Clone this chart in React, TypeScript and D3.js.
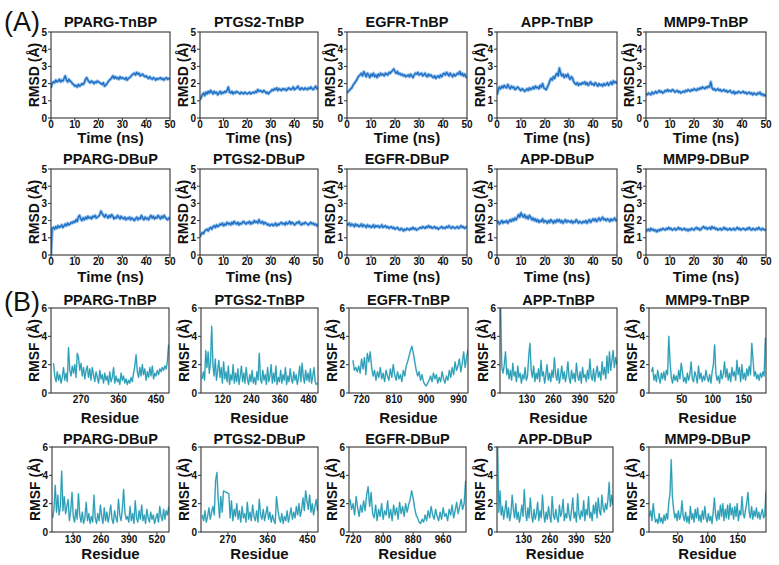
import React from 'react';
import * as d3 from 'd3';

// ---------- RMSD (Å) vs time, sampled every 0.5 ns over 0–50 ns ----------
const rmsdStepNs = 0.5;
const rmsdTimeTicks = [0, 10, 20, 30, 40, 50];
const rmsdValueTicks = [0, 1, 2, 3, 4, 5];

const ppargTnbpRmsd = [
  1.75, 2.0, 2.1, 2.05, 2.2, 2.1, 2.15, 2.25, 2.1, 2.2, 2.15,
  2.3, 2.45, 2.2, 2.1, 2.25, 2.15, 2.1, 2.0, 1.95, 1.85,
  1.9, 1.8, 1.95, 1.85, 1.9, 2.0, 1.95, 2.05, 2.25, 2.35,
  2.2, 2.1, 2.05, 2.15, 2.1, 2.0, 2.1, 2.05, 2.15, 2.1,
  2.05, 2.0, 1.95, 2.05, 1.85, 1.9, 2.0, 2.1, 2.2, 2.25,
  2.35, 2.45, 2.3, 2.4, 2.3, 2.35, 2.25, 2.4, 2.3, 2.35,
  2.3, 2.25, 2.35, 2.2, 2.3, 2.35, 2.4, 2.5, 2.55, 2.6,
  2.5, 2.65, 2.55, 2.6, 2.45, 2.5, 2.55, 2.45, 2.4, 2.45,
  2.35, 2.3, 2.4, 2.3, 2.25, 2.35, 2.3, 2.2, 2.3, 2.25,
  2.3, 2.35, 2.25, 2.3, 2.2, 2.3, 2.35, 2.25, 2.3, 2.25,
];
const ptgs2TnbpRmsd = [
  1.05, 1.2, 1.35, 1.45, 1.3, 1.5, 1.4, 1.55, 1.45, 1.6, 1.5,
  1.4, 1.55, 1.45, 1.5, 1.35, 1.45, 1.55, 1.4, 1.5, 1.45,
  1.55, 1.5, 1.6, 1.8, 1.5, 1.45, 1.55, 1.4, 1.5, 1.45,
  1.55, 1.5, 1.45, 1.4, 1.5, 1.45, 1.4, 1.5, 1.45, 1.4,
  1.45, 1.5, 1.4, 1.45, 1.5, 1.45, 1.55, 1.5, 1.65, 1.55,
  1.6, 1.55, 1.5, 1.6, 1.55, 1.45, 1.5, 1.4, 1.5, 1.55,
  1.65, 1.6, 1.7, 1.65, 1.75, 1.6, 1.7, 1.65, 1.6, 1.7,
  1.65, 1.7, 1.6, 1.65, 1.75, 1.7, 1.65, 1.7, 1.8, 1.65,
  1.7, 1.75, 1.85, 1.7, 1.65, 1.75, 1.7, 1.65, 1.75, 1.7,
  1.65, 1.75, 1.7, 1.8, 1.7, 1.65, 1.75, 1.85, 1.7, 1.75,
];
const egfrTnbpRmsd = [
  1.45, 1.55, 1.6, 1.7, 1.75, 1.9, 2.0, 2.1, 2.2, 2.35, 2.45,
  2.5, 2.6, 2.45, 2.7, 2.55, 2.4, 2.6, 2.5, 2.35, 2.55,
  2.45, 2.6, 2.4, 2.5, 2.35, 2.55, 2.45, 2.6, 2.5, 2.55,
  2.45, 2.6, 2.55, 2.5, 2.65, 2.6, 2.7, 2.75, 2.85, 2.7,
  2.6, 2.7, 2.55, 2.6, 2.5, 2.55, 2.45, 2.5, 2.4, 2.45,
  2.5, 2.4, 2.55, 2.45, 2.35, 2.5, 2.6, 2.55, 2.65, 2.5,
  2.55, 2.6, 2.45, 2.5, 2.6, 2.45, 2.4, 2.55, 2.45, 2.5,
  2.4, 2.35, 2.45, 2.3, 2.4, 2.45, 2.35, 2.5, 2.4, 2.55,
  2.6, 2.5, 2.65, 2.55, 2.45, 2.6, 2.5, 2.4, 2.55, 2.45,
  2.5, 2.6, 2.55, 2.7, 2.5, 2.6, 2.45, 2.55, 2.4, 2.35,
];
const appTnbpRmsd = [
  1.35, 1.6, 1.8, 1.7, 1.85, 1.75, 1.9, 1.8, 1.75, 1.95, 1.8,
  1.7, 1.85, 1.75, 1.8, 1.65, 1.7, 1.8, 1.75, 1.65, 1.6,
  1.7, 1.65, 1.55, 1.6, 1.7, 1.6, 1.75, 1.65, 1.7, 1.8,
  1.7, 1.85, 1.75, 1.8, 1.7, 1.9, 1.8, 2.0, 1.75, 1.7,
  1.65, 1.8, 1.95, 2.15, 2.3, 2.2, 2.4, 2.3, 2.5, 2.6,
  2.45, 2.9, 2.6, 2.45, 2.55, 2.35, 2.5, 2.4, 2.55, 2.35,
  2.25, 2.4, 2.3, 2.1, 2.0, 1.95, 2.05, 1.9, 2.0, 1.95,
  2.05, 2.0, 2.1, 1.95, 2.05, 1.9, 2.0, 2.1, 1.95, 2.0,
  1.9, 2.05, 1.95, 1.85, 2.0, 1.9, 1.95, 1.85, 2.0, 1.9,
  1.95, 2.05, 1.9, 2.0, 2.1, 1.95, 2.15, 2.05, 2.1, 2.0,
];
const mmp9TnbpRmsd = [
  1.4, 1.35, 1.45, 1.4, 1.35, 1.5, 1.4, 1.45, 1.55, 1.45, 1.5,
  1.6, 1.5, 1.55, 1.45, 1.5, 1.6, 1.55, 1.65, 1.55, 1.6,
  1.55, 1.65, 1.6, 1.5, 1.55, 1.6, 1.5, 1.55, 1.45, 1.5,
  1.55, 1.5, 1.6, 1.55, 1.65, 1.6, 1.55, 1.65, 1.6, 1.7,
  1.65, 1.6, 1.7, 1.65, 1.75, 1.7, 1.8, 1.75, 1.7, 1.8,
  1.75, 1.85, 1.8, 2.1, 1.75, 1.65, 1.7, 1.6, 1.65, 1.7,
  1.6, 1.65, 1.55, 1.6, 1.65, 1.55, 1.6, 1.5, 1.55, 1.6,
  1.5, 1.45, 1.55, 1.4, 1.5, 1.45, 1.55, 1.5, 1.45, 1.5,
  1.55, 1.45, 1.5, 1.4, 1.45, 1.5, 1.4, 1.45, 1.35, 1.45,
  1.4, 1.35, 1.45, 1.4, 1.5, 1.35, 1.4, 1.3, 1.35, 1.25,
];
const ppargDbupRmsd = [
  0.0, 1.55, 1.6, 1.5, 1.65, 1.55, 1.7, 1.6, 1.65, 1.75, 1.6,
  1.7, 1.8, 1.7, 1.85, 1.75, 1.8, 1.9, 1.85, 1.95, 1.9,
  2.05, 1.95, 2.2, 2.3, 2.1, 2.0, 2.15, 2.05, 2.2, 2.1,
  2.25, 2.15, 2.2, 2.1, 2.25, 2.2, 2.3, 2.15, 2.2, 2.25,
  2.35, 2.55, 2.4, 2.3, 2.2, 2.35, 2.25, 2.15, 2.3, 2.2,
  2.35, 2.25, 2.1, 2.2, 2.15, 2.3, 2.2, 2.1, 2.25, 2.15,
  2.1, 2.2, 2.05, 2.15, 2.1, 2.2, 2.05, 2.15, 2.1, 2.0,
  2.1, 2.2, 2.05, 2.15, 2.1, 2.3, 2.15, 2.05, 2.2, 2.1,
  2.15, 2.05, 2.2, 2.3, 2.15, 2.25, 2.1, 2.2, 2.15, 2.3,
  2.2, 2.1, 2.25, 2.15, 2.3, 2.2, 2.1, 2.05, 2.15, 2.1,
];
const ptgs2DbupRmsd = [
  1.05, 1.2, 1.3, 1.25, 1.4, 1.45, 1.5, 1.4, 1.55, 1.6, 1.5,
  1.65, 1.7, 1.6, 1.75, 1.65, 1.7, 1.8, 1.75, 1.85, 1.7,
  1.8, 1.75, 1.9, 1.8, 1.85, 1.75, 1.9, 1.8, 1.95, 1.85,
  1.8, 1.9, 1.75, 1.85, 1.8, 1.9, 1.95, 1.85, 1.8, 1.9,
  1.85, 1.95, 1.8, 1.9, 1.85, 2.0, 1.9, 1.95, 1.85, 2.05,
  1.9, 1.85, 1.95, 1.8, 1.9, 1.85, 1.75, 1.8, 1.7, 1.75,
  1.8, 1.7, 1.75, 1.85, 1.7, 1.8, 1.75, 1.85, 1.9, 1.8,
  1.85, 1.75, 1.9, 1.8, 1.85, 1.95, 1.8, 1.9, 1.85, 1.75,
  1.8, 1.9, 1.85, 1.95, 1.8, 1.75, 1.85, 1.8, 1.9, 1.85,
  1.8, 1.75, 1.85, 1.9, 1.8, 1.85, 1.75, 1.8, 1.7, 1.75,
];
const egfrDbupRmsd = [
  1.8, 1.75, 1.85, 1.7, 1.8, 1.75, 1.65, 1.8, 1.7, 1.75, 1.65,
  1.7, 1.8, 1.65, 1.75, 1.7, 1.6, 1.75, 1.65, 1.7, 1.6,
  1.65, 1.75, 1.6, 1.7, 1.65, 1.7, 1.6, 1.65, 1.75, 1.6,
  1.65, 1.7, 1.6, 1.65, 1.55, 1.6, 1.65, 1.55, 1.6, 1.5,
  1.55, 1.6, 1.5, 1.45, 1.55, 1.5, 1.4, 1.5, 1.45, 1.55,
  1.5, 1.45, 1.55, 1.5, 1.6, 1.5, 1.55, 1.45, 1.5, 1.55,
  1.6, 1.55, 1.65, 1.6, 1.55, 1.65, 1.6, 1.7, 1.6, 1.65,
  1.55, 1.6, 1.65, 1.55, 1.6, 1.5, 1.55, 1.6, 1.65, 1.55,
  1.6, 1.55, 1.65, 1.6, 1.7, 1.6, 1.55, 1.65, 1.6, 1.55,
  1.6, 1.65, 1.55, 1.6, 1.7, 1.6, 1.65, 1.55, 1.6, 1.65,
];
const appDbupRmsd = [
  1.85, 1.95, 1.8, 1.9, 2.0, 1.85, 1.95, 1.9, 2.0, 1.85, 1.95,
  2.05, 1.95, 2.1, 2.0, 2.15, 2.05, 2.2, 2.35, 2.2, 2.45,
  2.3, 2.2, 2.35, 2.15, 2.25, 2.1, 2.3, 2.2, 2.05, 2.15,
  2.0, 2.1, 1.95, 2.05, 1.9, 2.0, 1.95, 2.1, 1.9, 2.0,
  1.95, 1.85, 2.0, 1.9, 2.05, 1.95, 1.85, 2.0, 1.9, 2.05,
  1.95, 2.05, 1.9, 2.0, 1.85, 1.95, 2.05, 1.9, 2.0, 1.95,
  1.9, 2.0, 1.85, 1.95, 1.9, 2.05, 1.95, 1.85, 1.95, 1.9,
  1.85, 1.95, 1.9, 2.0, 1.85, 1.95, 2.05, 1.9, 2.0, 2.1,
  2.0, 2.1, 1.95, 2.05, 2.15, 2.0, 2.1, 2.2, 2.05, 2.1,
  2.0, 2.1, 2.05, 1.95, 2.1, 2.0, 2.05, 2.15, 2.0, 2.05,
];
const mmp9DbupRmsd = [
  1.35, 1.45, 1.5, 1.4, 1.55, 1.45, 1.5, 1.4, 1.45, 1.35, 1.45,
  1.4, 1.5, 1.45, 1.55, 1.5, 1.45, 1.55, 1.5, 1.6, 1.5,
  1.55, 1.45, 1.5, 1.55, 1.45, 1.5, 1.6, 1.5, 1.55, 1.45,
  1.5, 1.55, 1.45, 1.5, 1.4, 1.5, 1.45, 1.55, 1.5, 1.45,
  1.55, 1.6, 1.5, 1.55, 1.45, 1.5, 1.6, 1.65, 1.55, 1.6,
  1.5, 1.55, 1.6, 1.5, 1.65, 1.55, 1.6, 1.5, 1.55, 1.45,
  1.5, 1.55, 1.45, 1.5, 1.6, 1.5, 1.55, 1.45, 1.5, 1.55,
  1.45, 1.5, 1.55, 1.45, 1.5, 1.6, 1.5, 1.55, 1.45, 1.5,
  1.55, 1.5, 1.45, 1.55, 1.5, 1.6, 1.5, 1.45, 1.55, 1.5,
  1.45, 1.55, 1.5, 1.6, 1.5, 1.45, 1.55, 1.5, 1.45, 1.5,
];

// ---------- RMSF (Å) per residue ----------
const rmsfValueTicks = [0, 2, 4, 6];

const ppargTnbpRmsf = [
  2.1, 1.2, 0.8, 1.5, 0.9, 1.3, 0.7, 1.1, 1.8, 0.9,
  1.4, 0.8, 3.2, 1.6, 1.2, 1.9, 1.4, 2.0, 1.1, 2.8,
  2.5, 1.6, 2.1, 1.2, 1.8, 1.0, 1.6, 1.9, 1.1, 1.7,
  0.9, 1.8, 1.3, 0.8, 1.5, 1.1, 0.7, 1.6, 1.0, 1.3,
  0.7, 1.4, 0.9, 1.2, 0.6, 1.5, 0.8, 1.1, 1.8, 0.7,
  1.2, 0.8, 1.0, 0.6, 1.4, 0.9, 1.2, 0.7, 1.0, 0.6,
  0.9, 0.7, 1.1, 0.8, 1.4, 1.9, 2.7, 1.5, 1.1, 1.8,
  1.2, 2.0, 1.3, 1.7, 0.9, 1.5, 1.1, 1.8, 1.2, 1.9,
  1.0, 1.4, 1.2, 1.6, 1.3, 1.7, 1.5, 1.8, 1.6, 1.9,
  1.7, 2.2, 3.4,
];
const ptgs2TnbpRmsf = [
  1.0, 1.5, 0.9, 3.0, 1.8, 2.9, 1.4, 2.2, 4.7, 2.0,
  1.2, 2.4, 0.9, 1.6, 2.3, 1.1, 1.8, 0.7, 2.2, 1.0,
  1.5, 0.8, 1.9, 0.6, 1.3, 0.9, 2.0, 0.7, 1.4, 0.8,
  1.7, 0.6, 1.2, 1.9, 0.8, 1.4, 0.7, 1.8, 1.0, 0.6,
  1.3, 0.8, 1.6, 0.7, 1.1, 0.6, 1.5, 0.9, 2.8, 1.0,
  0.7, 1.6, 0.9, 1.3, 0.6, 1.8, 0.8, 1.2, 2.0, 0.7,
  1.4, 0.8, 1.9, 0.6, 1.1, 0.8, 1.6, 0.7, 1.3, 0.9,
  1.8, 0.6, 1.2, 0.8, 1.7, 1.0, 0.7, 1.5, 0.9, 1.3,
  0.6, 1.1, 1.9, 0.8, 2.1, 1.2, 0.7, 1.6, 0.9, 1.4,
  0.8, 1.7, 0.7, 1.2, 1.8, 0.8, 0.6, 0.7,
];
const egfrTnbpRmsf = [
  2.3, 1.6, 1.8, 1.5, 1.9, 1.4, 2.4, 1.7, 2.5, 1.3,
  2.8, 2.2, 2.9, 1.8, 1.2, 1.6, 0.9, 1.5, 1.1, 1.8,
  1.0, 1.4, 0.8, 1.6, 1.2, 0.9, 1.7, 1.1, 2.0, 1.3,
  0.9, 1.5, 1.0, 1.3, 0.8, 1.6, 1.2, 1.9, 2.2, 2.6,
  3.0, 3.3, 2.8, 2.2, 1.6, 1.2, 1.5, 0.9, 1.3, 0.8,
  0.6, 0.5, 0.7, 0.9, 1.2, 0.8, 1.4, 1.0, 1.3, 0.7,
  1.1, 0.8, 1.5, 1.0, 0.7, 1.2, 0.9, 1.6, 1.1, 1.8,
  1.3, 2.2, 1.6, 1.9, 2.4, 1.5, 2.1, 2.9, 1.8, 2.5,
  3.1,
];
const appTnbpRmsf = [
  6.0, 1.8, 1.4, 2.0, 2.9, 1.3, 1.7, 1.0, 1.6, 0.9,
  2.1, 1.2, 1.5, 0.8, 1.9, 1.1, 1.4, 0.7, 1.3, 1.0,
  1.8, 0.9, 1.2, 2.6, 3.5, 1.6, 1.1, 1.9, 0.8, 1.4,
  1.0, 1.7, 0.8, 2.3, 1.2, 1.5, 0.7, 1.3, 2.0, 0.9,
  1.4, 0.8, 1.6, 1.1, 2.5, 1.3, 0.9, 1.7, 0.7, 1.2,
  1.9, 1.0, 1.5, 0.8, 1.3, 2.2, 1.1, 0.7, 1.6, 1.0,
  1.4, 0.8, 2.1, 1.2, 0.9, 1.5, 0.7, 1.8, 1.1, 1.3,
  0.8, 1.6, 1.0, 2.4, 1.2, 0.9, 1.7, 0.8, 1.4, 1.9,
  1.1, 1.5, 0.9, 2.2, 1.3, 1.8, 1.0, 2.6, 1.4, 2.9,
  1.6, 2.3, 3.0, 1.8, 2.5, 2.0,
];
const mmp9TnbpRmsf = [
  1.5, 1.8, 0.9, 1.3, 0.8, 1.6, 1.1, 0.7, 1.4, 1.0,
  1.5, 0.9, 1.6, 1.3, 4.0, 2.2, 1.1, 0.7, 1.3, 0.9,
  1.2, 0.8, 1.6, 1.0, 2.1, 1.5, 0.8, 1.1, 0.7, 1.4,
  0.9, 1.3, 2.2, 1.0, 0.8, 1.5, 1.2, 0.7, 1.9, 1.0,
  1.4, 0.8, 1.2, 0.9, 1.6, 1.1, 0.8, 1.3, 0.7, 1.5,
  2.0, 3.4, 1.4, 0.9, 1.2, 0.7, 1.6, 1.0, 1.3, 2.2,
  1.1, 1.7, 0.9, 1.4, 0.8, 1.8, 1.2, 1.5, 0.9, 2.3,
  1.3, 1.8, 0.8, 2.0, 1.0, 1.4, 0.9, 1.7, 1.2, 1.9,
  1.3, 3.5, 2.4, 1.2, 1.5, 1.0, 1.3, 0.9, 1.4, 1.1,
  1.5, 1.2, 3.9,
];
const ppargDbupRmsf = [
  1.0, 1.6, 3.3, 1.4, 2.6, 1.2, 1.8, 4.3, 1.5, 2.5,
  1.3, 1.8, 2.3, 0.8, 1.5, 2.8, 1.1, 0.7, 1.6, 0.9,
  2.7, 1.2, 0.7, 1.4, 0.6, 1.0, 2.1, 0.8, 1.3, 0.6,
  1.1, 0.7, 2.6, 1.0, 0.6, 1.3, 0.8, 1.9, 1.1, 0.6,
  1.7, 0.8, 1.4, 0.7, 1.2, 1.9, 0.9, 0.6, 1.5, 1.0,
  0.7, 2.3, 1.2, 0.8, 1.6, 3.0, 1.4, 0.9, 1.1, 0.7,
  1.8, 0.8, 1.3, 0.6, 2.2, 1.0, 0.7, 1.5, 0.9, 1.9,
  0.8, 1.2, 0.6, 1.6, 1.0, 0.7, 1.4, 0.9, 1.2, 0.6,
  1.0, 1.3, 0.7, 1.8, 1.1, 0.8, 1.6, 0.9, 1.5, 1.2,
  1.8,
];
const ptgs2DbupRmsf = [
  1.2, 0.8, 1.5, 0.7, 1.1, 1.7, 0.9, 1.4, 1.8, 1.2,
  3.6, 4.2, 2.3, 1.0, 2.5, 1.4, 2.9, 2.85, 2.8, 2.75,
  2.7, 1.0, 2.2, 0.8, 1.6, 1.1, 2.0, 0.9, 1.5, 0.7,
  1.8, 1.0, 1.3, 0.7, 2.1, 0.9, 1.4, 0.8, 1.9, 1.1,
  0.8, 1.5, 0.7, 2.3, 1.2, 0.9, 1.6, 0.8, 1.3, 1.8,
  0.9, 1.4, 0.7, 1.2, 0.8, 0.6, 2.5, 1.6, 1.0, 0.7,
  1.3, 0.6, 1.1, 0.8, 1.5, 0.7, 1.2, 1.7, 0.9, 1.4,
  1.0, 1.8, 1.2, 2.0, 1.1, 1.6, 2.4, 1.5, 2.9, 2.2,
  1.6, 2.6, 1.4, 2.0, 1.2, 1.8, 2.3, 1.5,
];
const egfrDbupRmsf = [
  2.3, 1.6, 2.0, 1.2, 2.5, 1.7, 1.1, 1.9, 1.4, 2.2,
  1.5, 2.6, 3.2, 1.8, 2.8, 1.3, 1.0, 1.9, 0.8, 1.6,
  1.1, 2.0, 0.9, 1.5, 1.2, 2.2, 1.0, 1.6, 0.8, 1.9,
  1.2, 1.7, 0.9, 2.1, 1.3, 1.8, 1.1, 2.0, 1.4, 1.9,
  2.3, 2.9, 2.4, 1.7, 1.2, 1.0, 0.7, 0.6, 0.9, 0.7,
  1.2, 0.8, 1.5, 1.0, 1.8, 1.2, 0.9, 1.6, 1.1, 0.8,
  1.4, 0.9, 1.7, 1.1, 1.3, 0.8, 1.6, 1.2, 1.9, 1.0,
  1.5, 2.1, 1.3, 1.8, 2.3, 1.6, 2.0, 3.6,
];
const appDbupRmsf = [
  6.0, 1.4, 2.9, 1.2, 1.8, 0.9, 1.5, 2.2, 1.0, 1.7,
  0.8, 1.3, 2.6, 1.6, 1.0, 2.0, 0.9, 1.4, 0.7, 1.2,
  1.9, 1.1, 3.0, 1.5, 0.8, 1.7, 1.0, 2.4, 1.2, 0.7,
  1.6, 0.9, 1.3, 2.1, 0.8, 1.5, 1.0, 2.6, 1.3, 0.7,
  1.4, 0.9, 1.8, 1.1, 0.7, 2.5, 1.2, 0.9, 1.6, 1.0,
  0.7, 1.9, 1.1, 1.4, 2.3, 0.8, 1.3, 1.0, 2.0, 1.2,
  0.8, 1.6, 2.4, 1.0, 1.4, 0.7, 2.7, 1.3, 0.9, 1.5,
  1.1, 2.2, 0.8, 1.6, 1.2, 2.5, 1.0, 1.4, 0.8, 1.9,
  1.3, 2.1, 1.0, 2.4, 1.5, 1.2, 2.6, 1.7, 1.4, 2.0,
  1.6, 2.3, 3.5, 1.8, 2.6, 1.9,
];
const mmp9DbupRmsf = [
  1.1, 1.5, 0.8, 2.0, 1.2, 0.7, 0.9, 0.6, 1.3, 0.7,
  1.0, 0.6, 1.2, 0.8, 1.3, 0.9, 2.1, 2.7, 5.1, 2.5,
  1.6, 1.0, 1.3, 0.8, 1.5, 0.9, 1.2, 2.2, 1.1, 0.8,
  1.4, 0.7, 1.1, 0.6, 1.8, 0.9, 1.3, 0.7, 1.6, 1.0,
  1.7, 0.8, 1.2, 0.7, 1.5, 0.9, 1.8, 1.0, 0.7, 1.3,
  0.8, 1.1, 0.6, 1.4, 2.4, 1.2, 0.8, 1.5, 0.9, 1.9,
  1.1, 2.0, 0.8, 1.6, 1.0, 1.9, 0.9, 2.0, 1.2, 1.7,
  0.9, 1.8, 1.1, 2.0, 0.8, 1.5, 1.2, 2.5, 1.3, 1.0,
  1.6, 2.1, 2.8, 1.4, 1.0, 1.8, 0.9, 1.5, 1.1, 1.7,
  1.0, 1.4, 0.9, 1.3, 1.6, 1.0, 1.2, 2.9,
];

// Residue numbering of each RMSF series: first residue, sampling step
const rmsfFirstResidue = {
  ppargTnbp: 204, ptgs2Tnbp: 33, egfrTnbp: 696, appTnbp: 1, mmp9Tnbp: 1,
  ppargDbup: 35, ptgs2Dbup: 212, egfrDbup: 712, appDbup: 1, mmp9Dbup: 3,
};
const rmsfResidueStep = {
  ppargTnbp: 3, ptgs2Tnbp: 5, egfrTnbp: 4, appTnbp: 6, mmp9Tnbp: 2,
  ppargDbup: 6, ptgs2Dbup: 3, egfrDbup: 4, appDbup: 6, mmp9Dbup: 2,
};
// Residue axis ranges and tick labels
const rmsfResidueRange: Record<string, [number, number]> = {
  ppargTnbp: [198, 481], ptgs2Tnbp: [28, 520], egfrTnbp: [685, 1016], appTnbp: [-2, 572], mmp9Tnbp: [-3, 186],
  ppargDbup: [32, 576], ptgs2Dbup: [209, 474], egfrDbup: [709, 1021], appDbup: [-2, 572], mmp9Dbup: [2, 197],
};
const rmsfResidueTicks: Record<string, number[]> = {
  ppargTnbp: [270, 360, 450], ptgs2Tnbp: [120, 240, 360, 480], egfrTnbp: [720, 810, 900, 990],
  appTnbp: [130, 260, 390, 520], mmp9Tnbp: [50, 100, 150],
  ppargDbup: [130, 260, 390, 520], ptgs2Dbup: [270, 360, 450], egfrDbup: [720, 800, 880, 960],
  appDbup: [130, 260, 390, 520], mmp9Dbup: [50, 100, 150],
};

const tnbpTitles = ['PPARG-TnBP', 'PTGS2-TnBP', 'EGFR-TnBP', 'APP-TnBP', 'MMP9-TnBP'];
const dbupTitles = ['PPARG-DBuP', 'PTGS2-DBuP', 'EGFR-DBuP', 'APP-DBuP', 'MMP9-DBuP'];
const tnbpKeys = ['ppargTnbp', 'ptgs2Tnbp', 'egfrTnbp', 'appTnbp', 'mmp9Tnbp'];
const dbupKeys = ['ppargDbup', 'ptgs2Dbup', 'egfrDbup', 'appDbup', 'mmp9Dbup'];
const tnbpRmsd = [ppargTnbpRmsd, ptgs2TnbpRmsd, egfrTnbpRmsd, appTnbpRmsd, mmp9TnbpRmsd];
const dbupRmsd = [ppargDbupRmsd, ptgs2DbupRmsd, egfrDbupRmsd, appDbupRmsd, mmp9DbupRmsd];
const tnbpRmsf = [ppargTnbpRmsf, ptgs2TnbpRmsf, egfrTnbpRmsf, appTnbpRmsf, mmp9TnbpRmsf];
const dbupRmsf = [ppargDbupRmsf, ptgs2DbupRmsf, egfrDbupRmsf, appDbupRmsf, mmp9DbupRmsf];

// ---------- layout ----------
const W = 779;
const H = 565;
const FONT = "'Liberation Sans', Arial, Helvetica, sans-serif";
const AXIS = '#333';

type Row = { lefts: number[]; rights: number[]; top: number; bottom: number; titleY: number; tickY: number; labelY: number };
const rowA1: Row = { lefts: [51, 200, 347, 497, 646], rights: [170, 318, 467, 617, 766], top: 32, bottom: 118, titleY: 27, tickY: 128, labelY: 143 };
const rowA2: Row = { lefts: [51, 200, 347, 497, 646], rights: [170, 318, 467, 617, 766], top: 169, bottom: 255, titleY: 164, tickY: 265, labelY: 282 };
const rowB1: Row = { lefts: [51, 201, 349, 500, 649], rights: [169, 318, 468, 617, 766], top: 308, bottom: 393, titleY: 305, tickY: 403, labelY: 423 };
const rowB2: Row = { lefts: [52, 201, 349, 497, 649], rights: [169, 318, 466, 613, 766], top: 447, bottom: 532, titleY: 444, tickY: 543, labelY: 559 };

type PanelProps = {
  left: number; right: number; top: number; bottom: number;
  titleY: number; tickY: number; labelY: number;
  title: string; xLabel: string; yLabel: string;
  xDomain: [number, number]; xTicks: number[];
  yMax: number; yTicks: number[];
  xs: number[]; ys: number[];
  kind: 'rmsd' | 'rmsf';
};

function Panel(p: PanelProps) {
  const x = d3.scaleLinear().domain(p.xDomain).range([p.left, p.right]);
  const y = d3.scaleLinear().domain([0, p.yMax]).range([p.bottom, p.top]);
  const line = d3
    .line<number>()
    .x((_, i) => x(p.xs[i]))
    .y((d) => y(d));
  const d = line(p.ys) || '';
  const cx = (p.left + p.right) / 2;
  const cy = (p.top + p.bottom) / 2;
  const clipId = `clip-${p.title}-${p.kind}`;
  return (
    <g>
      <defs>
        <clipPath id={clipId}>
          <rect x={p.left} y={p.top - 1} width={p.right - p.left} height={p.bottom - p.top + 1} />
        </clipPath>
      </defs>
      <text x={cx} y={p.titleY} textAnchor="middle" fontFamily={FONT} fontWeight="bold" fontSize={14.5} fill="#111">
        {p.title}
      </text>
      <g clipPath={`url(#${clipId})`}>
        {p.kind === 'rmsd' ? (
          <>
            <path d={d} fill="none" stroke="#93c1ea" strokeWidth={3.2} strokeLinejoin="round" />
            <path d={d} fill="none" stroke="#1d6cc3" strokeWidth={1.3} strokeLinejoin="round" />
          </>
        ) : (
          <>
            <path d={d} fill="none" stroke="#8fd0dc" strokeWidth={1.8} strokeLinejoin="round" opacity={0.7} />
            <path d={d} fill="none" stroke="#2a9db6" strokeWidth={1.1} strokeLinejoin="round" />
          </>
        )}
      </g>
      <rect x={p.left} y={p.top} width={p.right - p.left} height={p.bottom - p.top} fill="none" stroke={AXIS} strokeWidth={1.1} />
      {p.yTicks.map((t) => (
        <g key={`y${t}`}>
          <line x1={p.left - 3} x2={p.left} y1={y(t)} y2={y(t)} stroke={AXIS} strokeWidth={1} />
          <text x={p.left - 4} y={y(t)} dy="0.35em" textAnchor="end" fontFamily={FONT} fontWeight="bold" fontSize={10} fill="#111">
            {t}
          </text>
        </g>
      ))}
      {p.xTicks.map((t) => (
        <g key={`x${t}`}>
          <line x1={x(t)} x2={x(t)} y1={p.bottom} y2={p.bottom + 3} stroke={AXIS} strokeWidth={1} />
          <text x={x(t)} y={p.tickY} textAnchor="middle" fontFamily={FONT} fontWeight="bold" fontSize={10} fill="#111">
            {t}
          </text>
        </g>
      ))}
      <text x={cx} y={p.labelY} textAnchor="middle" fontFamily={FONT} fontWeight="bold" fontSize={15} fill="#111">
        {p.xLabel}
      </text>
      <text
        transform={`translate(${p.left - 12},${cy}) rotate(-90)`}
        textAnchor="middle"
        fontFamily={FONT}
        fontWeight="bold"
        fontSize={14}
        fill="#111"
      >
        {p.yLabel}
      </text>
    </g>
  );
}

function rmsdPanels(row: Row, titles: string[], series: number[][]) {
  return titles.map((title, i) => (
    <Panel
      key={title + 'rmsd'}
      left={row.lefts[i]}
      right={row.rights[i]}
      top={row.top}
      bottom={row.bottom}
      titleY={row.titleY}
      tickY={row.tickY}
      labelY={row.labelY}
      title={title}
      xLabel="Time (ns)"
      yLabel="RMSD (Å)"
      xDomain={[0, 50]}
      xTicks={rmsdTimeTicks}
      yMax={5}
      yTicks={rmsdValueTicks}
      xs={series[i].map((_, k) => k * rmsdStepNs)}
      ys={series[i]}
      kind="rmsd"
    />
  ));
}

function rmsfPanels(row: Row, titles: string[], keys: string[], series: number[][]) {
  return titles.map((title, i) => {
    const key = keys[i] as keyof typeof rmsfFirstResidue;
    return (
      <Panel
        key={title + 'rmsf'}
        left={row.lefts[i]}
        right={row.rights[i]}
        top={row.top}
        bottom={row.bottom}
        titleY={row.titleY}
        tickY={row.tickY}
        labelY={row.labelY}
        title={title}
        xLabel="Residue"
        yLabel="RMSF (Å)"
        xDomain={rmsfResidueRange[key]}
        xTicks={rmsfResidueTicks[key]}
        yMax={6}
        yTicks={rmsfValueTicks}
        xs={series[i].map((_, k) => rmsfFirstResidue[key] + k * rmsfResidueStep[key])}
        ys={series[i]}
        kind="rmsf"
      />
    );
  });
}

export default function App() {
  return (
    <svg width={W} height={H} style={{ position: 'absolute', left: 0, top: 0, background: '#fff' }}>
      <rect width={W} height={H} fill="#fff" />
      <text x={4} y={31} fontFamily={FONT} fontSize={27} fill="#111">(A)</text>
      <text x={4} y={311} fontFamily={FONT} fontSize={27} fill="#111">(B)</text>
      {rmsdPanels(rowA1, tnbpTitles, tnbpRmsd)}
      {rmsdPanels(rowA2, dbupTitles, dbupRmsd)}
      {rmsfPanels(rowB1, tnbpTitles, tnbpKeys, tnbpRmsf)}
      {rmsfPanels(rowB2, dbupTitles, dbupKeys, dbupRmsf)}
    </svg>
  );
}
